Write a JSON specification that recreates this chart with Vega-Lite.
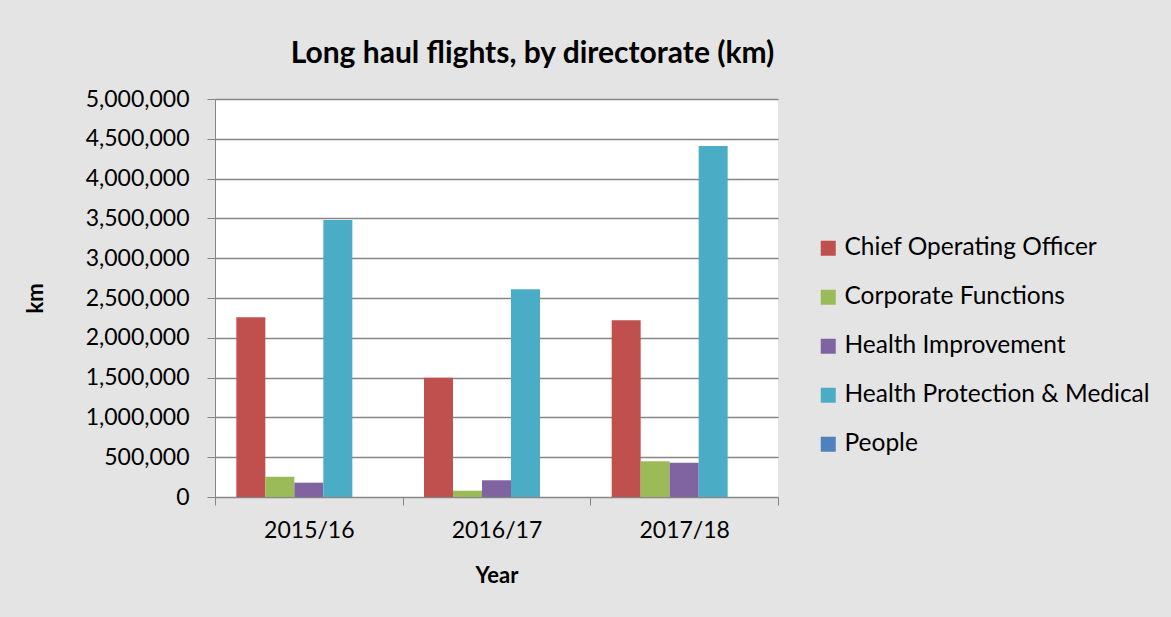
{
  "$schema": "https://vega.github.io/schema/vega-lite/v6.json",
  "width": 563,
  "height": 398,
  "autosize": {"type": "none"},
  "padding": {"left": 215, "top": 99, "right": 393, "bottom": 120},
  "background": "#E4E4E4",
  "title": {
    "text": "Long haul flights, by directorate (km)",
    "font": "Lato",
    "fontSize": 30,
    "fontWeight": "bold",
    "color": "#000000",
    "anchor": "middle",
    "dx": 36,
    "offset": 19
  },
  "data": {
    "values": [
      {"Year": "2015/16", "Directorate": "Chief Operating Officer", "km": 2257000},
      {"Year": "2015/16", "Directorate": "Corporate Functions", "km": 255000},
      {"Year": "2015/16", "Directorate": "Health Improvement", "km": 180000},
      {"Year": "2015/16", "Directorate": "Health Protection & Medical", "km": 3480000},
      {"Year": "2015/16", "Directorate": "People", "km": 0},
      {"Year": "2016/17", "Directorate": "Chief Operating Officer", "km": 1499000},
      {"Year": "2016/17", "Directorate": "Corporate Functions", "km": 79000},
      {"Year": "2016/17", "Directorate": "Health Improvement", "km": 210000},
      {"Year": "2016/17", "Directorate": "Health Protection & Medical", "km": 2609000},
      {"Year": "2016/17", "Directorate": "People", "km": 0},
      {"Year": "2017/18", "Directorate": "Chief Operating Officer", "km": 2220000},
      {"Year": "2017/18", "Directorate": "Corporate Functions", "km": 448000},
      {"Year": "2017/18", "Directorate": "Health Improvement", "km": 431000},
      {"Year": "2017/18", "Directorate": "Health Protection & Medical", "km": 4410000},
      {"Year": "2017/18", "Directorate": "People", "km": 0}
    ]
  },
  "mark": {"type": "bar"},
  "encoding": {
    "x": {
      "field": "Year",
      "type": "nominal",
      "title": "Year",
      "scale": {"paddingInner": 0, "paddingOuter": 0},
      "axis": {
        "labelAngle": 0,
        "labelFont": "Lato",
        "labelFontSize": 23,
        "labelColor": "#000000",
        "labelPadding": 14,
        "titleFont": "Lato",
        "titleFontSize": 22,
        "titleFontWeight": "bold",
        "titleColor": "#000000",
        "titlePadding": 23,
        "domainColor": "#868686",
        "tickColor": "#868686",
        "tickSize": 8,
        "tickBand": "extent",
        "grid": false
      }
    },
    "xOffset": {
      "field": "Directorate",
      "type": "nominal",
      "scale": {"paddingInner": 0, "paddingOuter": 0.736}
    },
    "y": {
      "field": "km",
      "type": "quantitative",
      "title": "km",
      "scale": {"domain": [0, 5000000], "nice": false},
      "axis": {
        "values": [0, 500000, 1000000, 1500000, 2000000, 2500000, 3000000, 3500000, 4000000, 4500000, 5000000],
        "format": ",d",
        "labelFont": "Lato",
        "labelFontSize": 23,
        "labelColor": "#000000",
        "labelPadding": 18,
        "titleFont": "Lato",
        "titleFontSize": 22,
        "titleFontWeight": "bold",
        "titleColor": "#000000",
        "titleX": -180,
        "titleY": 199,
        "titleAlign": "center",
        "titleBaseline": "middle",
        "domainColor": "#868686",
        "tickColor": "#868686",
        "tickSize": 8,
        "gridColor": "#868686",
        "gridWidth": 1.5
      }
    },
    "color": {
      "field": "Directorate",
      "type": "nominal",
      "scale": {
        "domain": ["Chief Operating Officer", "Corporate Functions", "Health Improvement", "Health Protection & Medical", "People"],
        "range": ["#C0504D", "#9BBB59", "#8064A2", "#4BACC6", "#4F81BD"]
      },
      "legend": {
        "title": null,
        "orient": "none",
        "legendX": 601,
        "legendY": 137,
        "symbolType": "square",
        "symbolSize": 225,
        "symbolStrokeWidth": 0,
        "labelFont": "Lato",
        "labelFontSize": 24.5,
        "labelColor": "#000000",
        "labelOffset": 4,
        "rowPadding": 24,
        "labelLimit": 400
      }
    }
  },
  "config": {
    "view": {"fill": "#FFFFFF", "stroke": null}
  }
}
